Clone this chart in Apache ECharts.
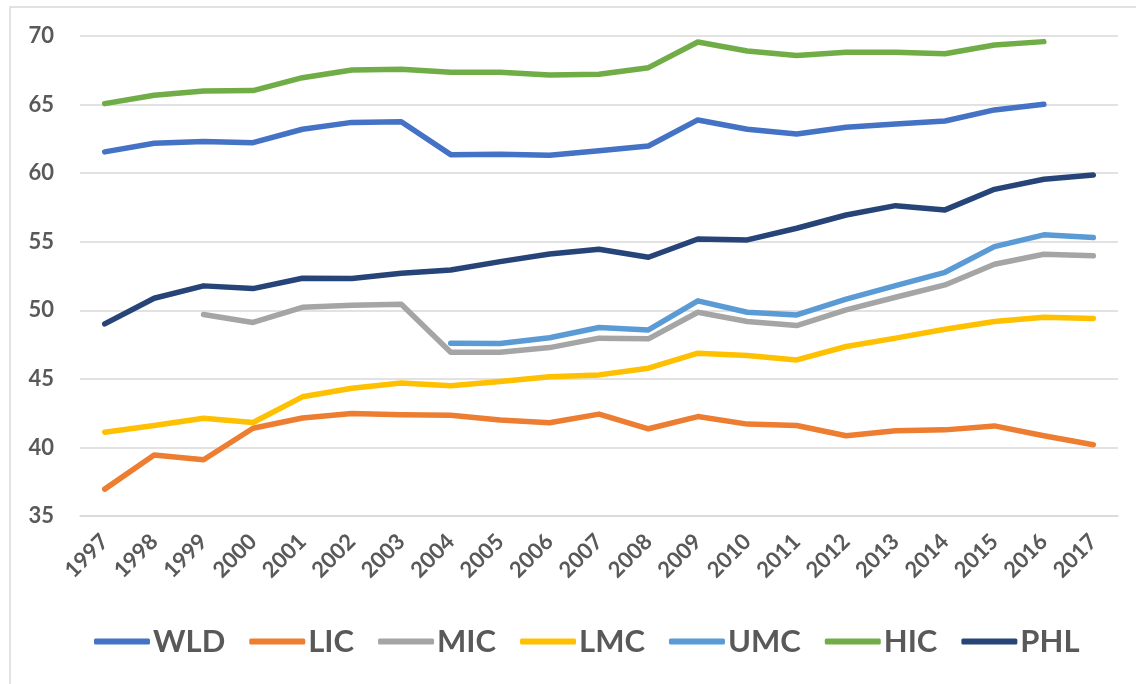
<!DOCTYPE html>
<html>
<head>
<meta charset="utf-8">
<script src="https://cdn.jsdelivr.net/npm/echarts@6/dist/echarts.min.js"></script>
<style>
  html, body { margin: 0; padding: 0; background: #fff; }
  #chart { width: 1136px; height: 684px; }
</style>
</head>
<body>
<div id="chart"></div>
<script>
// Years on the horizontal axis
const years = ['1997','1998','1999','2000','2001','2002','2003','2004','2005','2006',
               '2007','2008','2009','2010','2011','2012','2013','2014','2015','2016','2017'];

// Series values (%), null where no observation exists
const WLD = [61.55, 62.18, 62.30, 62.22, 63.20, 63.70, 63.75, 61.35, 61.37, 61.30,
             61.64, 61.98, 63.88, 63.20, 62.86, 63.34, 63.59, 63.80, 64.61, 65.02, null];
const LIC = [36.96, 39.45, 39.10, 41.40, 42.15, 42.48, 42.38, 42.35, 42.00, 41.80,
             42.43, 41.36, 42.25, 41.70, 41.60, 40.85, 41.21, 41.28, 41.57, 40.85, 40.19];
const MIC = [null, null, 49.69, 49.11, 50.22, 50.37, 50.44, 46.94, 46.94, 47.28,
             47.97, 47.92, 49.86, 49.18, 48.89, 50.03, 50.95, 51.85, 53.36, 54.09, 53.97];
const LMC = [41.11, 41.60, 42.13, 41.82, 43.69, 44.32, 44.69, 44.49, 44.80, 45.15,
             45.29, 45.78, 46.87, 46.70, 46.38, 47.36, 47.97, 48.62, 49.18, 49.50, 49.40];
const UMC = [null, null, null, null, null, null, null, 47.60, 47.58, 48.00,
             48.74, 48.57, 50.69, 49.86, 49.66, 50.81, 51.80, 52.77, 54.64, 55.50, 55.30];
const HIC = [65.07, 65.68, 65.99, 66.02, 66.96, 67.52, 67.57, 67.35, 67.35, 67.16,
             67.21, 67.69, 69.56, 68.91, 68.57, 68.81, 68.81, 68.71, 69.34, 69.59, null];
const PHL = [49.01, 50.88, 51.78, 51.58, 52.34, 52.31, 52.70, 52.94, 53.55, 54.10,
             54.45, 53.87, 55.20, 55.13, 55.98, 56.95, 57.63, 57.32, 58.82, 59.55, 59.87];

// Y-axis range and step
const yMin = 35, yMax = 70, yStep = 5;

const seriesDefs = [
  { name: 'WLD', data: WLD, color: '#4472C4' },
  { name: 'LIC', data: LIC, color: '#ED7D31' },
  { name: 'MIC', data: MIC, color: '#A5A5A5' },
  { name: 'LMC', data: LMC, color: '#FFC000' },
  { name: 'UMC', data: UMC, color: '#5B9BD5' },
  { name: 'HIC', data: HIC, color: '#70AD47' },
  { name: 'PHL', data: PHL, color: '#264478' }
];

const textColor = '#595959';
const fontFamily = 'Lato, "Open Sans", sans-serif';

const chart = echarts.init(document.getElementById('chart'), null, { renderer: 'canvas' });

chart.setOption({
  backgroundColor: '#ffffff',
  animation: false,
  graphic: [{
    type: 'rect',
    shape: { x: 10, y: 7, width: 1300, height: 1000 },
    style: { fill: 'none', stroke: '#D9D9D9', lineWidth: 1.5 },
    silent: true,
    z: -1
  }],
  grid: { left: 80, right: 18, top: 36, bottom: 168, containLabel: false },
  xAxis: {
    type: 'category',
    data: years,
    boundaryGap: true,
    axisLine: { show: true, lineStyle: { color: '#D9D9D9', width: 1.5 } },
    axisTick: { show: false },
    axisLabel: {
      rotate: 45,
      margin: 22,
      color: textColor,
      fontFamily: fontFamily,
      fontWeight: 'bold',
      fontSize: 22,
      interval: 0
    }
  },
  yAxis: {
    type: 'value',
    min: yMin,
    max: yMax,
    interval: yStep,
    axisLine: { show: false },
    axisTick: { show: false },
    splitLine: { lineStyle: { color: '#D9D9D9', width: 1.5 } },
    axisLabel: {
      margin: 26,
      color: textColor,
      fontFamily: fontFamily,
      fontWeight: 'bold',
      fontSize: 22
    }
  },
  legend: {
    bottom: 22,
    left: 89,
    icon: 'roundRect',
    itemWidth: 56,
    itemHeight: 6,
    itemGap: 24,
    textStyle: {
      color: textColor,
      fontFamily: fontFamily,
      fontWeight: 'bold',
      fontSize: 31,
      padding: [0, 0, 0, -2]
    },
    data: seriesDefs.map(s => s.name)
  },
  series: seriesDefs.map(s => ({
    name: s.name,
    type: 'line',
    data: s.data,
    symbol: 'none',
    showSymbol: false,
    connectNulls: false,
    color: s.color,
    lineStyle: { color: s.color, width: 5.5, cap: 'round', join: 'round' },
    emphasis: { disabled: true }
  }))
});
</script>
</body>
</html>
